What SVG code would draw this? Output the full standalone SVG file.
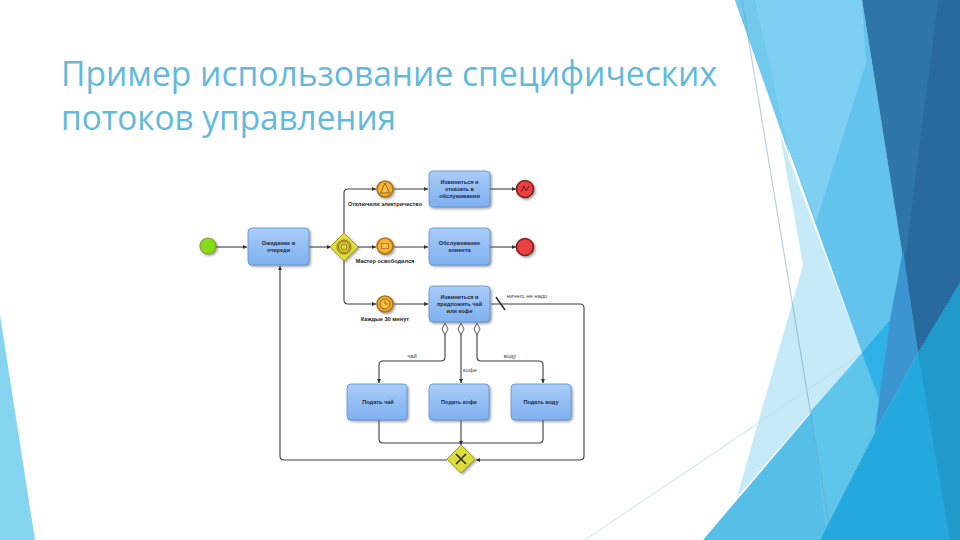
<svg xmlns="http://www.w3.org/2000/svg" width="960" height="540" viewBox="0 0 960 540">
<style>
.title{font-family:"Open Sans","Liberation Sans",sans-serif;font-size:35px;fill:#62b9db}
.t{font-family:"Liberation Sans",Arial,sans-serif;font-size:5.6px;font-weight:bold;fill:#1a2a44;text-anchor:middle}
.l{font-family:"Liberation Sans",Arial,sans-serif;font-size:5.6px;font-weight:bold;fill:#222;text-anchor:middle}
.f{font-family:"Liberation Sans",Arial,sans-serif;font-size:5.8px;fill:#444;text-anchor:middle}
.task{fill:url(#tg);stroke:#5f8fcb;stroke-width:.8;filter:url(#sh)}
.c{fill:none;stroke:#3c3c3c;stroke-width:1.1;stroke-linejoin:round}
.ev{fill:url(#eg);stroke:#a8741a;stroke-width:1.6;filter:url(#sh)}
.ei{fill:none;stroke:#8a5a10;stroke-width:.9}
.gw{fill:#dcdc3a;stroke:#a3a32a;stroke-width:1;filter:url(#sh)}
.end{fill:#ea3f3f;stroke:#7d2222;stroke-width:1.6;filter:url(#sh)}
.dm{fill:#fff;stroke:#444;stroke-width:.9}
</style>
<defs>
<linearGradient id="tg" x1="0" y1="0" x2="0" y2="1"><stop offset="0" stop-color="#a9cdf8"/><stop offset="1" stop-color="#7fb0ef"/></linearGradient>
<radialGradient id="eg"><stop offset="0" stop-color="#f8c850"/><stop offset="1" stop-color="#f0aa2d"/></radialGradient>
<filter id="sh" x="-20%" y="-20%" width="150%" height="150%"><feDropShadow dx="1.5" dy="1.5" stdDeviation="1" flood-color="#555" flood-opacity=".55"/></filter>
<marker id="a" markerWidth="5" markerHeight="5" refX="4" refY="2.5" orient="auto"><path d="M0 .5L4 2.5L0 4.5z" fill="#333"/></marker>
</defs>
<rect width="960" height="540" fill="#fff"/>
<g id="background">
<polygon points="0,315 35,540 0,540" fill="#85d4f0"/>
<polygon points="780,135 803,265 737,497 862,353" fill="#c6eaf7"/>
<polygon points="735,0 862,0 905,270 918,353 890,340 862,353" fill="#62c3ec"/>
<polygon points="735,0 862,0 866,63 816,222" fill="#7ed0f2"/>
<polygon points="735,0 755,0 790,157" fill="#72c9ee"/>
<polygon points="862,353 918,353 875,432 820,540 703,540" fill="#55bfe8"/>
<polygon points="811,411 862,353 878,400 874,432 826,530" fill="#5fc5ea"/>
<polygon points="862,353 890,320 880,400" fill="#2eb1e4"/>
<polygon points="862,0 960,0 960,283 918,353" fill="#2f76a8"/>
<polygon points="938,0 960,0 960,283 918,353 905,262" fill="#286a9d"/>
<polygon points="903,250 918,353 875,432 890,320" fill="#3c94d0"/>
<polygon points="960,283 918,353 875,432 820,540 960,540" fill="#23a9de"/>
<polygon points="918,353 960,283 960,540 950,540" fill="#1f9acb"/>
<line x1="742" y1="0" x2="830" y2="530" stroke="#6fa3b8" stroke-width=".6"/>
<line x1="862" y1="353" x2="585" y2="540" stroke="#b5dfe6" stroke-width=".8"/>
</g>
<text class="title" x="61" y="86" textLength="656" lengthAdjust="spacingAndGlyphs">Пример использование специфических</text>
<text class="title" x="61" y="130" textLength="335" lengthAdjust="spacingAndGlyphs">потоков управления</text>
<g id="connectors">
<path class="c" d="M216 247H247" marker-end="url(#a)"/>
<path class="c" d="M309 247H331" marker-end="url(#a)"/>
<path class="c" d="M344 233V193Q344 189 348 189H376" marker-end="url(#a)"/>
<path class="c" d="M358 247H376" marker-end="url(#a)"/>
<path class="c" d="M344 261V300Q344 304 348 304H376" marker-end="url(#a)"/>
<path class="c" d="M394 189H428" marker-end="url(#a)"/>
<path class="c" d="M394 247H428" marker-end="url(#a)"/>
<path class="c" d="M394 304H428" marker-end="url(#a)"/>
<path class="c" d="M490 189H516" marker-end="url(#a)"/>
<path class="c" d="M490 247H516" marker-end="url(#a)"/>
<path class="c" d="M491 304H580Q584 304 584 308V456Q584 460 580 460H476" marker-end="url(#a)"/>
<path class="c" d="M447 460H284Q280 460 280 456V266" marker-end="url(#a)"/>
<path class="c" d="M445 335V357Q445 361 441 361H383Q379 361 379 365V383" marker-end="url(#a)"/>
<path class="c" d="M461 335V383" marker-end="url(#a)"/>
<path class="c" d="M477 335V357Q477 361 481 361H539Q543 361 543 365V383" marker-end="url(#a)"/>
<path class="c" d="M379 420V439Q379 443 383 443H539Q543 443 543 439V420"/>
<path class="c" d="M461 420V445" marker-end="url(#a)"/>
<line x1="496" y1="297" x2="505" y2="310" stroke="#333" stroke-width="1.6"/>
<polygon class="dm" points="445,323 448,329 445,335 442,329"/>
<polygon class="dm" points="461,323 464,329 461,335 458,329"/>
<polygon class="dm" points="477,323 480,329 477,335 474,329"/>
<text class="f" x="412" y="358">чай</text>
<text class="f" x="470" y="372">кофе</text>
<text class="f" x="510" y="358">воду</text>
<text class="f" x="527" y="298">ничего не надо</text>
</g>
<g id="start"><circle cx="208" cy="246" r="8" fill="#84dc1e" stroke="#8c9a3a" stroke-width="1.2" filter="url(#sh)"/></g>
<g id="task-wait"><rect class="task" x="248" y="228" width="61" height="37" rx="4"/><text class="t" x="278.500" y="245">Ожидание в</text><text class="t" x="278.500" y="252">очереди</text></g>
<g id="gateway-event"><polygon class="gw" points="344,233 358,247 344,261 330,247"/><circle class="ei" cx="344" cy="247" r="7"/><circle class="ei" cx="344" cy="247" r="5.500"/><circle class="ei" cx="344" cy="247" r="3"/></g>
<g id="event-signal"><circle class="ev" cx="385" cy="189" r="8"/><path class="ei" d="M385 183L380.500 193H389.500z"/><text class="l" x="385" y="206">Отключили электричество</text></g>
<g id="event-message"><circle class="ev" cx="385" cy="246" r="8"/><rect x="381.500" y="243.500" width="7" height="5" fill="none" stroke="#a8741a" stroke-width=".8"/><text class="l" x="385" y="263">Мастер освободился</text></g>
<g id="event-timer"><circle class="ev" cx="385" cy="304" r="8"/><circle class="ei" cx="385" cy="304" r="5"/><path class="ei" d="M385 301V304H388"/><text class="l" x="385" y="321">Каждые 30 минут</text></g>
<g id="task-refuse"><rect class="task" x="429" y="171" width="61" height="36" rx="4"/><text class="t" x="459.500" y="184">Извиниться и</text><text class="t" x="459.500" y="191">отказать в</text><text class="t" x="459.500" y="198">обслуживании</text></g>
<g id="task-serve"><rect class="task" x="429" y="228" width="61" height="37" rx="4"/><text class="t" x="459.500" y="245">Обслуживание</text><text class="t" x="459.500" y="252">клиента</text></g>
<g id="task-offer"><rect class="task" x="429" y="286" width="61" height="36" rx="4"/><text class="t" x="459.500" y="299">Извиниться и</text><text class="t" x="459.500" y="306">предложить чай</text><text class="t" x="459.500" y="313">или кофе</text></g>
<g id="end-error"><circle class="end" cx="525" cy="189" r="8.500"/><path d="M521 192L524 186L526 191L529 186" fill="none" stroke="#6d1a1a" stroke-width="1"/></g>
<g id="end-plain"><circle class="end" cx="525" cy="247" r="8.500"/></g>
<g id="task-tea"><rect class="task" x="347" y="384" width="60" height="36" rx="4"/><text class="t" x="378" y="404">Подать чай</text></g>
<g id="task-coffee"><rect class="task" x="429" y="384" width="60" height="36" rx="4"/><text class="t" x="459" y="404">Подать кофе</text></g>
<g id="task-water"><rect class="task" x="511" y="384" width="60" height="36" rx="4"/><text class="t" x="541" y="404">Подать воду</text></g>
<g id="gateway-x"><polygon class="gw" points="461,445 475,459 461,473 447,459"/><path d="M456 454L466 464M466 454L456 464" stroke="#333" stroke-width="1.6"/></g>
</svg>
